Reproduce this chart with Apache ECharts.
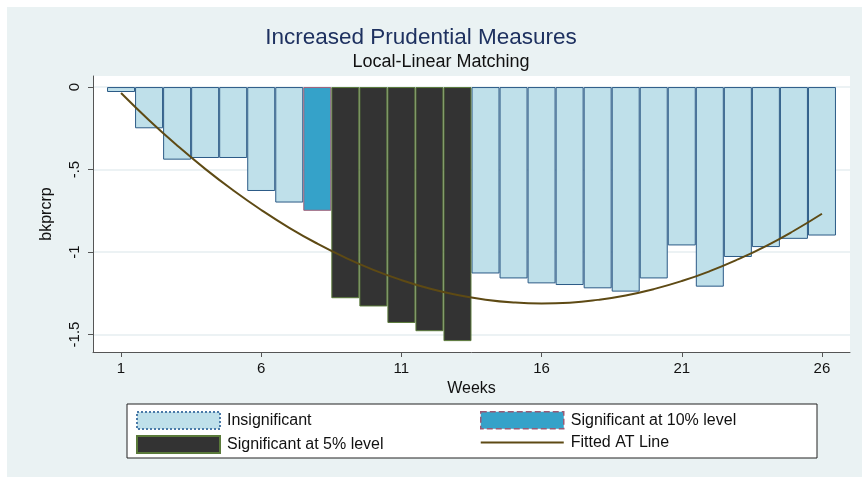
<!DOCTYPE html>
<html>
<head>
<meta charset="utf-8" />
<title>Increased Prudential Measures</title>
<script src="https://cdn.jsdelivr.net/npm/echarts@6/dist/echarts.min.js"></script>
<style>
  html, body { margin: 0; padding: 0; background: #fff; }
  #chart { width: 862px; height: 477px; }
</style>
</head>
<body>
<div id="chart"></div>
<script>
// weeks 1..26
const weeks = [1, 2, 3, 4, 5, 6, 7, 8, 9, 10, 11, 12, 13, 14, 15, 16, 17, 18, 19, 20, 21, 22, 23, 24, 25, 26]

// estimate per week
const estimate = [-0.03, -0.25, -0.44, -0.43, -0.43, -0.63, -0.70, -0.75, -1.28, -1.33, -1.43, -1.48, -1.54,
  -1.13, -1.16, -1.19, -1.20, -1.22, -1.24, -1.16, -0.96, -1.21, -1.03, -0.97, -0.92, -0.90]

// significance of each week: 0 = insignificant, 10 = 10% level, 5 = 5% level
const signif = [0, 0, 0, 0, 0, 0, 0, 10, 5, 5, 5, 5, 5, 0, 0, 0, 0, 0, 0, 0, 0, 0, 0, 0, 0, 0]

// fitted AT line
const fitted = [-0.036, -0.201, -0.354, -0.496, -0.626, -0.745, -0.853, -0.949, -1.034, -1.108, -1.170, -1.221, -1.261,
  -1.289, -1.306, -1.312, -1.307, -1.290, -1.263, -1.225, -1.176, -1.116, -1.045, -0.964, -0.871, -0.768]

const xTicks = [1, 6, 11, 16, 21, 26]
const yTicks = [0, -0.5, -1, -1.5]

const pick = (level) => weeks.map((w, i) => (signif[i] === level ? [w, estimate[i]] : [w, '-']))

const font = 'Liberation Sans, Arial, sans-serif'

const chart = echarts.init(document.getElementById('chart'), null, { renderer: 'canvas' })

const legendCommon = {
  orient: 'vertical',
  top: 411,
  padding: 0,
  itemWidth: 83,
  itemHeight: 17,
  itemGap: 5,
  textStyle: { fontFamily: font, fontSize: 16, color: '#111', padding: [0, 0, 0, 2] }
}

const option = {
  animation: false,
  backgroundColor: '#fff',
  textStyle: { fontFamily: font },
  graphic: [
    {
      type: 'rect',
      z: -10,
      shape: { x: 7, y: 7, width: 855, height: 470 },
      style: { fill: '#eaf2f3' }
    },
    {
      type: 'rect',
      z: -5,
      shape: { x: 127, y: 404, width: 690, height: 54 },
      style: { fill: '#fff', stroke: '#222', lineWidth: 1 }
    }
  ],
  title: [
    {
      text: 'Increased Prudential Measures',
      left: 421,
      top: 26,
      textAlign: 'center',
      padding: 0,
      textStyle: { fontFamily: font, fontSize: 22.5, fontWeight: 'normal', color: '#1e3160' }
    },
    {
      text: 'Local-Linear Matching',
      left: 441,
      top: 53,
      textAlign: 'center',
      padding: 0,
      textStyle: { fontFamily: font, fontSize: 18, fontWeight: 'normal', color: '#111' }
    }
  ],
  legend: [
    {
      ...legendCommon,
      left: 136,
      data: [
        { name: 'Insignificant', icon: 'rect', itemStyle: { borderType: 'dotted', borderColor: '#4a7aa8' } },
        { name: 'Significant at 5% level', icon: 'rect' }
      ]
    },
    {
      ...legendCommon,
      left: 480,
      data: [
        { name: 'Significant at 10% level', icon: 'rect', itemStyle: { borderType: 'dashed', borderColor: '#9a5a74', borderWidth: 1.5 } },
        { name: 'Fitted AT Line', icon: 'path://M0,0H83V2H0Z' }
      ]
    }
  ],
  grid: {
    left: 93,
    right: 12,
    top: 76,
    bottom: 125,
    show: true,
    backgroundColor: '#fff',
    borderWidth: 0
  },
  xAxis: {
    type: 'value',
    min: 0,
    max: 27,
    name: 'Weeks',
    nameLocation: 'middle',
    nameGap: 23,
    nameTextStyle: { fontFamily: font, fontSize: 16, color: '#111' },
    axisLine: { show: true, onZero: false, lineStyle: { color: '#555' } },
    axisTick: { show: true, length: 5, customValues: xTicks, lineStyle: { color: '#555' } },
    axisLabel: { customValues: xTicks, margin: 9, fontSize: 15, color: '#111', fontFamily: font },
    splitLine: { show: false }
  },
  yAxis: {
    type: 'value',
    min: -1.606,
    max: 0.067,
    name: 'bkprcrp',
    nameLocation: 'middle',
    nameRotate: 90,
    nameGap: 38,
    nameTextStyle: { fontFamily: font, fontSize: 16, color: '#111' },
    axisLine: { show: true, lineStyle: { color: '#555' } },
    axisTick: { show: true, length: 5, customValues: yTicks, lineStyle: { color: '#555' } },
    axisLabel: {
      customValues: yTicks,
      rotate: 90,
      margin: 11,
      fontSize: 15,
      color: '#111',
      fontFamily: font,
      formatter: (v) => (v === 0 ? '0' : String(v).replace('0.', '.'))
    },
    splitLine: { show: false }
  },
  series: [
    // grid lines, kept under the bars
    {
      type: 'line',
      data: [],
      z: 0,
      silent: true,
      markLine: {
        z: 0,
        silent: true,
        symbol: 'none',
        label: { show: false },
        lineStyle: { color: '#e6eef0', width: 1.5, type: 'solid' },
        data: yTicks.map((v) => ({ yAxis: v }))
      }
    },
    {
      name: 'Insignificant',
      type: 'bar',
      z: 2,
      barWidth: 28,
      barGap: '-100%',
      itemStyle: { color: '#bfe0ea', borderColor: '#2b5a86', borderWidth: 1 },
      data: pick(0)
    },
    {
      name: 'Significant at 10% level',
      type: 'bar',
      z: 2,
      barWidth: 28,
      barGap: '-100%',
      itemStyle: { color: '#35a2c9', borderColor: '#a0607a', borderWidth: 1 },
      data: pick(10)
    },
    {
      name: 'Significant at 5% level',
      type: 'bar',
      z: 2,
      barWidth: 28,
      barGap: '-100%',
      itemStyle: { color: '#333333', borderColor: '#5a7a3a', borderWidth: 1 },
      data: pick(5)
    },
    {
      name: 'Fitted AT Line',
      type: 'line',
      z: 3,
      smooth: true,
      symbol: 'none',
      lineStyle: { color: '#5e4a14', width: 2 },
      itemStyle: { color: '#5e4a14' },
      data: weeks.map((w, i) => [w, fitted[i]])
    }
  ]
}

chart.setOption(option)
</script>
</body>
</html>
